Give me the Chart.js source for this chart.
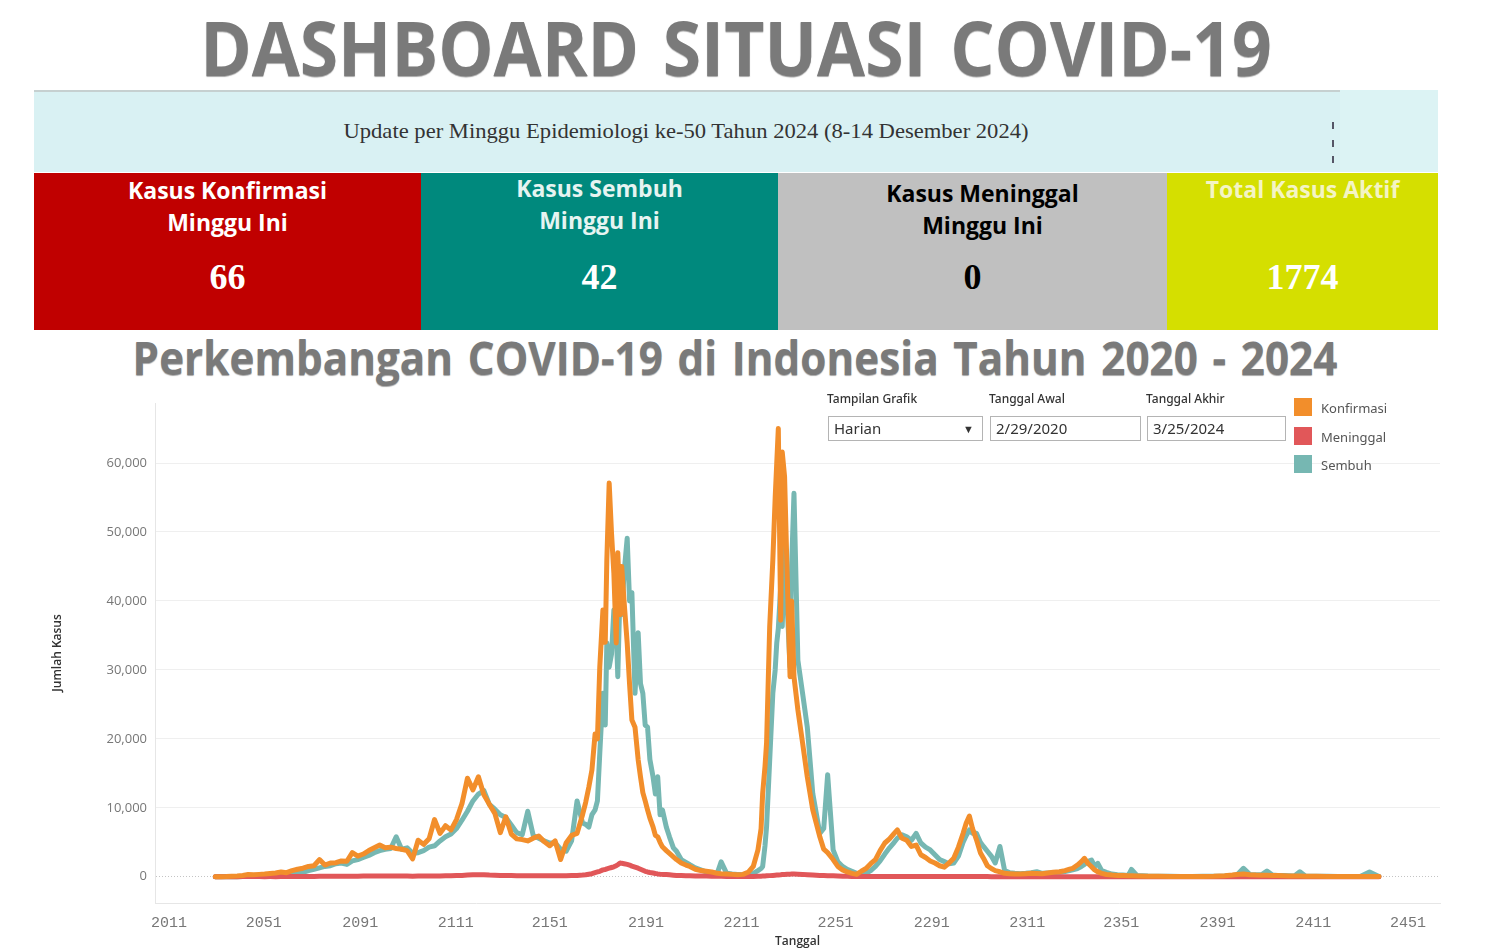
<!DOCTYPE html>
<html lang="id">
<head>
<meta charset="utf-8">
<title>Dashboard Situasi COVID-19</title>
<script src="https://cdn.jsdelivr.net/npm/chart.js@4.4.1/dist/chart.umd.min.js"></script>
<style>
  html, body { margin: 0; padding: 0; background: #fff; }
  body { width: 1504px; height: 949px; position: relative; overflow: hidden; font-family: 'Open Sans', sans-serif; }
  .judul { position: absolute; white-space: nowrap; font-weight: 700; line-height: 1; color: #7a7a7a;
           text-shadow: 0 1px 1px rgba(0,0,0,0.35); transform-origin: center; }
  #judul1 { font-size: 76px; top: 9px; left: 736px; word-spacing: 6px; }
  #judul2 { font-size: 46px; top: 334px; left: 735px; word-spacing: 4px; }
  #banner { position: absolute; left: 34px; top: 90px; width: 1404px; height: 82px; background: #d9f1f3; }
  #banner .garis { position: absolute; left: 0; top: 0; width: 1306px; height: 2px; background: #c6d0d0; }
  #banner .kanan { position: absolute; left: 1306px; top: 0; width: 98px; height: 82px; background: #dcf3f4; }
  #banner .titik { position: absolute; left: 1298px; width: 2px; height: 7px; background: #556; }
  #banner .teks { position: absolute; left: 652px; top: 41px; white-space: nowrap; transform-origin: center;
                  font-family: 'Liberation Serif', serif; font-size: 22px; line-height: 24px; color: #333; }
  .kotak { position: absolute; top: 173px; height: 157px; }
  .kotak .lbl { position: absolute; left: 0; width: 100%; text-align: center; font-weight: 700; font-size: 23px; line-height: 32px; }
  .kotak .angka { position: absolute; left: 0; width: 100%; top: 84px; text-align: center; font-family: 'Liberation Serif', serif;
                  font-weight: 700; font-size: 36px; line-height: 40px; }
  #grafik { position: absolute; left: 0; top: 385px; }
  .ctl-lbl { position: absolute; top: 390px; font-family: 'Noto Sans', sans-serif; font-size: 12px; color: #333; font-weight: 500; }
  .ctl-box { position: absolute; top: 416px; height: 25px; box-sizing: border-box; border: 1px solid #b4b4b4; background: #fff;
             font-family: 'Noto Sans', sans-serif; font-size: 15px; color: #333; line-height: 23px; padding-left: 5px; }
  .ctl-box .panah { position: absolute; right: 8px; top: 0; font-size: 11px; color: #333; }
  .leg { position: absolute; left: 1294px; width: 18px; height: 18px; }
  .leg-lbl { position: absolute; left: 1321px; font-family: 'Noto Sans', sans-serif; font-size: 13px; color: #555; line-height: 18px; }
</style>
</head>
<body>
<div class="judul" id="judul1">DASHBOARD SITUASI COVID-19</div>

<div id="banner">
  <div class="garis"></div>
  <div class="kanan"></div>
  <div class="titik" style="top:32px;"></div>
  <div class="titik" style="top:50px;"></div>
  <div class="titik" style="top:66px;"></div>
  <div class="teks" id="bannerTeks">Update per Minggu Epidemiologi ke-50 Tahun 2024 (8-14 Desember 2024)</div>
</div>

<div class="kotak" style="left:34px;width:387px;background:#c00000;color:#fff;">
  <div class="lbl" style="top:1px;">Kasus Konfirmasi<br>Minggu Ini</div>
  <div class="angka">66</div>
</div>
<div class="kotak" style="left:421px;width:357px;background:#00897d;color:#e6f4f1;">
  <div class="lbl" style="top:-1px;">Kasus Sembuh<br>Minggu Ini</div>
  <div class="angka" style="color:#fff;">42</div>
</div>
<div class="kotak" style="left:778px;width:389px;background:#c0c0c0;color:#000;">
  <div class="lbl" style="top:4px;left:10px;">Kasus Meninggal<br>Minggu Ini</div>
  <div class="angka">0</div>
</div>
<div class="kotak" style="left:1167px;width:271px;background:#d5df00;color:#f4f4c4;">
  <div class="lbl" style="top:0px;">Total Kasus Aktif</div>
  <div class="angka" style="color:#fff;">1774</div>
</div>

<div class="judul" id="judul2">Perkembangan COVID-19 di Indonesia Tahun 2020 - 2024</div>

<canvas id="grafik" width="1504" height="564"></canvas>

<div class="ctl-lbl" style="left:827px;">Tampilan Grafik</div>
<div class="ctl-box" style="left:828px;width:155px;">Harian<span class="panah">&#9660;</span></div>
<div class="ctl-lbl" style="left:989px;">Tanggal Awal</div>
<div class="ctl-box" style="left:990px;width:151px;">2/29/2020</div>
<div class="ctl-lbl" style="left:1146px;">Tanggal Akhir</div>
<div class="ctl-box" style="left:1147px;width:139px;">3/25/2024</div>

<div class="leg" style="top:398px;background:#f28e2b;"></div>
<div class="leg-lbl" style="top:399px;">Konfirmasi</div>
<div class="leg" style="top:427px;background:#e15759;"></div>
<div class="leg-lbl" style="top:428px;">Meninggal</div>
<div class="leg" style="top:455px;background:#76b7b2;"></div>
<div class="leg-lbl" style="top:456px;">Sembuh</div>

<script>
// hari ke-n sejak 1 Januari 2020
const hari = [
  59, 66, 73, 80, 87, 94, 101, 108, 115, 122,
  129, 136, 143, 150, 157, 164, 171, 178, 185, 192,
  199, 206, 213, 220, 227, 234, 241, 248, 255, 262,
  269, 276, 283, 290, 297, 304, 311, 318, 325, 332,
  339, 346, 353, 360, 367, 374, 381, 388, 395, 402,
  409, 416, 423, 430, 437, 444, 451, 458, 465, 472,
  479, 486, 493, 500, 507, 514, 521, 528,
  532, 536, 540, 544, 547, 550, 554, 557, 559, 562,
  565, 568, 571, 573, 576, 578, 581, 585, 588, 591,
  595, 599, 602, 605, 608, 611, 614, 618, 621, 624,
  627, 630, 635, 639, 644, 648, 654, 660, 665, 672,
  679, 686, 693, 700, 705, 712, 719, 726, 733, 740,
  746, 752, 756, 758, 761, 763, 767, 771, 774, 776,
  778, 781, 783, 786, 789, 793, 795, 798, 803, 809,
  815, 822, 831, 836, 841, 848, 854, 860,
  866, 872, 878, 884, 890, 896, 902, 908, 914, 920,
  926, 930, 936, 942, 948, 954, 960, 966, 972, 978,
  984, 990, 996, 1002, 1008, 1014, 1018, 1022, 1026, 1031,
  1036, 1040, 1045, 1050, 1055, 1061, 1067, 1073, 1080, 1087,
  1094, 1101, 1108, 1115, 1122, 1129, 1137, 1144, 1150, 1154,
  1160, 1165, 1169, 1173, 1178, 1182, 1186, 1191, 1197, 1204,
  1211, 1218, 1225, 1229, 1236, 1250, 1264, 1278, 1292, 1306,
  1320, 1334, 1348, 1358, 1364, 1372, 1380, 1388, 1395, 1402,
  1409, 1416, 1423, 1430, 1437, 1444, 1451, 1465, 1479, 1493,
  1507, 1521, 1533, 1545
];

const konfirmasi = [
  0, 5, 30, 80, 130, 200, 330, 300, 350, 400,
  480, 550, 700, 600, 900, 1100, 1250, 1500, 1600, 2500,
  1700, 2000, 2050, 2300, 2250, 3500, 3000, 3300, 3800, 4200,
  4600, 4200, 4300, 4100, 4000, 3800, 2600, 5300, 4700, 5500,
  8300, 6300, 7400, 6800, 8300, 10600, 14300, 12600, 14500, 11900,
  10500, 9200, 6400, 8700, 6200, 5500, 5400, 5200, 5600, 5900,
  5100, 4500, 5200, 2500, 4900, 6000, 6300, 9000,
  10800, 13000, 15500, 20700, 20000, 30400, 38700, 34000, 45900, 57100,
  49800, 44000, 33900, 47000, 38000, 45000, 40000, 33900, 28000, 22750,
  21700, 17000, 14500, 12200, 11000, 9700, 8500, 7250, 6000, 5800,
  5000, 4350, 3800, 3400, 2900, 2500, 2000, 1700, 1500, 1100,
  900, 800, 700, 500, 450, 400, 350, 300, 350, 700,
  1500, 3900, 7000, 12100, 16000, 19400, 36300, 45900, 55000, 60000,
  65000, 37200, 61600, 58000, 45000, 29000, 40000, 29000, 24200, 19400,
  14500, 9700, 5800, 4000, 3500, 2500, 1500, 1000,
  700, 500, 350, 800, 1200, 1900, 2500, 3800, 4900, 5500,
  6300, 6800, 5600, 5300, 4400, 4600, 3200, 2800, 2300, 2000,
  1600, 1400, 2000, 2700, 4300, 6300, 7800, 8800, 7000, 5400,
  3500, 2700, 1600, 1200, 900, 730, 500, 450, 400, 400,
  450, 500, 490, 450, 550, 650, 730, 900, 1100, 1220,
  1700, 2200, 2680, 2000, 1460, 1000, 730, 500, 340, 250,
  200, 180, 150, 150, 120, 90, 70, 60, 50, 50,
  60, 80, 150, 250, 340, 390, 300, 250, 230, 240,
  200, 170, 150, 130, 110, 100, 90, 70, 60, 50,
  40, 40, 40, 30
];

const sembuh = [
  0, 0, 2, 10, 15, 30, 45, 90, 110, 150,
  200, 180, 250, 400, 450, 550, 650, 900, 1100, 1300,
  1500, 1600, 1900, 2000, 1800, 2300, 2500, 2800, 3100, 3500,
  3800, 4000, 4100, 5800, 4000, 4200, 3400, 3500, 3800, 4300,
  4500, 5200, 5800, 6200, 7000, 8200, 9500, 11000, 12000, 12500,
  10500, 9800, 9000, 8600, 7500, 6400, 6100, 9500, 6000, 5600,
  5200, 4900, 4900, 4000, 3700, 5200, 11000, 7800,
  7600, 7200, 9000, 9700, 11000, 17900, 26600, 22000, 33900, 30400,
  32300, 38700, 36000, 29000, 42000, 38000, 44000, 49100, 40000, 41200,
  26600, 35400, 28000, 26600, 22000, 21700, 17000, 14500, 12000, 14500,
  9000, 9700, 7200, 5800, 4200, 3700, 2500, 2100, 1750, 1300,
  1000, 700, 600, 500, 2170, 500, 400, 350, 300, 350,
  500, 900, 1200, 1500, 4500, 7250, 16900, 26600, 30000, 33900,
  36000, 42000, 36300, 48000, 40000, 30400, 45000, 55600, 31400, 26600,
  21700, 12100, 6300, 7000, 14800, 3900, 2200, 1500,
  1070, 800, 500, 400, 500, 900, 1500, 2300, 3300, 4200,
  5000, 5600, 6100, 5800, 5300, 6300, 4900, 4300, 3900, 3200,
  2500, 2200, 1900, 2000, 3000, 5000, 6000, 6800, 6300, 6300,
  5000, 4400, 3700, 3000, 2000, 4390, 900, 600, 500, 450,
  500, 600, 730, 500, 550, 600, 650, 750, 900, 1000,
  1200, 1500, 1800, 2200, 2440, 1500, 1950, 900, 630, 400,
  300, 250, 200, 1070, 200, 120, 90, 80, 60, 60,
  70, 90, 130, 200, 300, 1220, 350, 300, 280, 830,
  250, 200, 180, 150, 130, 730, 110, 80, 70, 60,
  50, 50, 700, 40
];

const meninggal = [
  0, 1, 3, 10, 15, 25, 35, 30, 25, 20,
  25, 20, 30, 35, 40, 45, 45, 55, 60, 65,
  70, 75, 80, 80, 85, 90, 95, 100, 110, 120,
  120, 110, 115, 110, 100, 100, 95, 100, 105, 115,
  120, 130, 140, 150, 170, 200, 250, 280, 300, 300,
  250, 230, 200, 190, 170, 160, 150, 140, 145, 150,
  140, 150, 150, 135, 160, 170, 190, 250,
  300, 380, 450, 600, 700, 800, 1000, 1050, 1150, 1250,
  1350, 1450, 1600, 1750, 2000, 1950, 1900, 1800, 1700, 1550,
  1400, 1250, 1100, 950, 800, 700, 620, 550, 480, 420,
  380, 350, 320, 280, 240, 200, 180, 160, 150, 130,
  110, 100, 90, 80, 70, 60, 50, 40, 40, 45,
  55, 70, 90, 100, 120, 140, 170, 200, 230, 250,
  270, 300, 330, 350, 370, 380, 390, 400, 380, 350,
  300, 250, 200, 180, 160, 140, 110, 90,
  70, 50, 40, 30, 25, 25, 25, 30, 30, 35,
  40, 40, 45, 45, 45, 40, 35, 35, 30, 30,
  25, 25, 25, 25, 30, 35, 40, 45, 45, 40,
  35, 30, 25, 20, 15, 15, 12, 10, 10, 8,
  8, 8, 8, 8, 8, 8, 10, 10, 12, 12,
  14, 15, 15, 14, 12, 10, 9, 8, 6, 5,
  4, 3, 3, 2, 2, 1, 1, 1, 1, 1,
  1, 1, 2, 3, 3, 4, 3, 3, 2, 2,
  2, 2, 1, 1, 1, 1, 1, 1, 1, 1,
  1, 0, 0, 0
];

// tick sumbu X (1 Jan / 1 Mei / 1 Sep), label seperti tampil di dashboard
const tickHari = [0, 121, 244, 366, 486, 609, 731, 851, 974, 1096, 1216, 1339, 1461, 1582];
const tickLabel = ['2011', '2051', '2091', '2111', '2151', '2191', '2211', '2251', '2291', '2311', '2351', '2391', '2411', '2451'];
const yTicks = [0, 10000, 20000, 30000, 40000, 50000, 60000];

if (konfirmasi.length !== hari.length || sembuh.length !== hari.length || meninggal.length !== hari.length) {
    console.error('panjang data tidak sama', hari.length, konfirmasi.length, sembuh.length, meninggal.length);
}

// sesuaikan lebar teks judul dengan aslinya
function fitLebar(id, lebar, extra) {
    const el = document.getElementById(id);
    const s = lebar / el.offsetWidth;
    el.style.transform = `translateX(-50%) ${extra || ''} scaleX(${s})`;
}
fitLebar('judul1', 1072);
fitLebar('judul2', 1205);
fitLebar('bannerTeks', 685, 'translateY(-50%)');

function toPoints(values) {
    return hari.map((d, i) => ({ x: d, y: values[i] }));
}

const ctx = document.getElementById('grafik').getContext('2d');

new Chart(ctx, {
    type: 'line',
    data: {
        datasets: [
            { label: 'Konfirmasi', data: toPoints(konfirmasi), borderColor: '#f28e2b' },
            { label: 'Meninggal', data: toPoints(meninggal), borderColor: '#e15759' },
            { label: 'Sembuh', data: toPoints(sembuh), borderColor: '#76b7b2' }
        ]
    },
    options: {
        responsive: false,
        animation: false,
        layout: { padding: { left: 46, right: 64, top: 18, bottom: 0 } },
        elements: {
            line: { borderWidth: 5, tension: 0, fill: false, borderJoinStyle: 'round', borderCapStyle: 'round' },
            point: { radius: 0, hoverRadius: 0 }
        },
        plugins: {
            legend: { display: false },
            tooltip: { enabled: false }
        },
        scales: {
            x: {
                type: 'linear',
                min: -18,
                max: 1623,
                afterBuildTicks: (scale) => { scale.ticks = tickHari.map(v => ({ value: v })); },
                afterFit: (scale) => { scale.height = 46; },
                ticks: {
                    autoSkip: false,
                    maxRotation: 0,
                    padding: 11,
                    color: '#777',
                    font: { family: 'Liberation Mono', size: 15 },
                    callback: (v, i) => tickLabel[i]
                },
                grid: { display: false, drawTicks: false },
                border: { display: true, color: '#e6e6e6' },
                title: {
                    display: true, text: 'Tanggal', color: '#333',
                    font: { family: 'Open Sans', size: 12, weight: '600' },
                    padding: { top: 0, bottom: 0 }
                }
            },
            y: {
                min: -3800,
                max: 68700,
                afterBuildTicks: (scale) => { scale.ticks = yTicks.map(v => ({ value: v })); },
                afterFit: (scale) => { scale.width = 109; },
                ticks: {
                    padding: 8,
                    color: '#777',
                    font: { family: 'Open Sans', size: 13 },
                    callback: (v) => v.toLocaleString('en-US')
                },
                grid: {
                    drawTicks: false,
                    color: (c) => (c.tick && c.tick.value === 0) ? '#c4c4c4' : '#efefef'
                },
                border: {
                    color: '#e6e6e6',
                    dash: (c) => (c.tick && c.tick.value === 0) ? [1, 2] : []
                },
                title: {
                    display: true, text: 'Jumlah Kasus', color: '#333',
                    font: { family: 'Open Sans', size: 12, weight: '600' }
                }
            }
        }
    }
});
</script>
</body>
</html>
